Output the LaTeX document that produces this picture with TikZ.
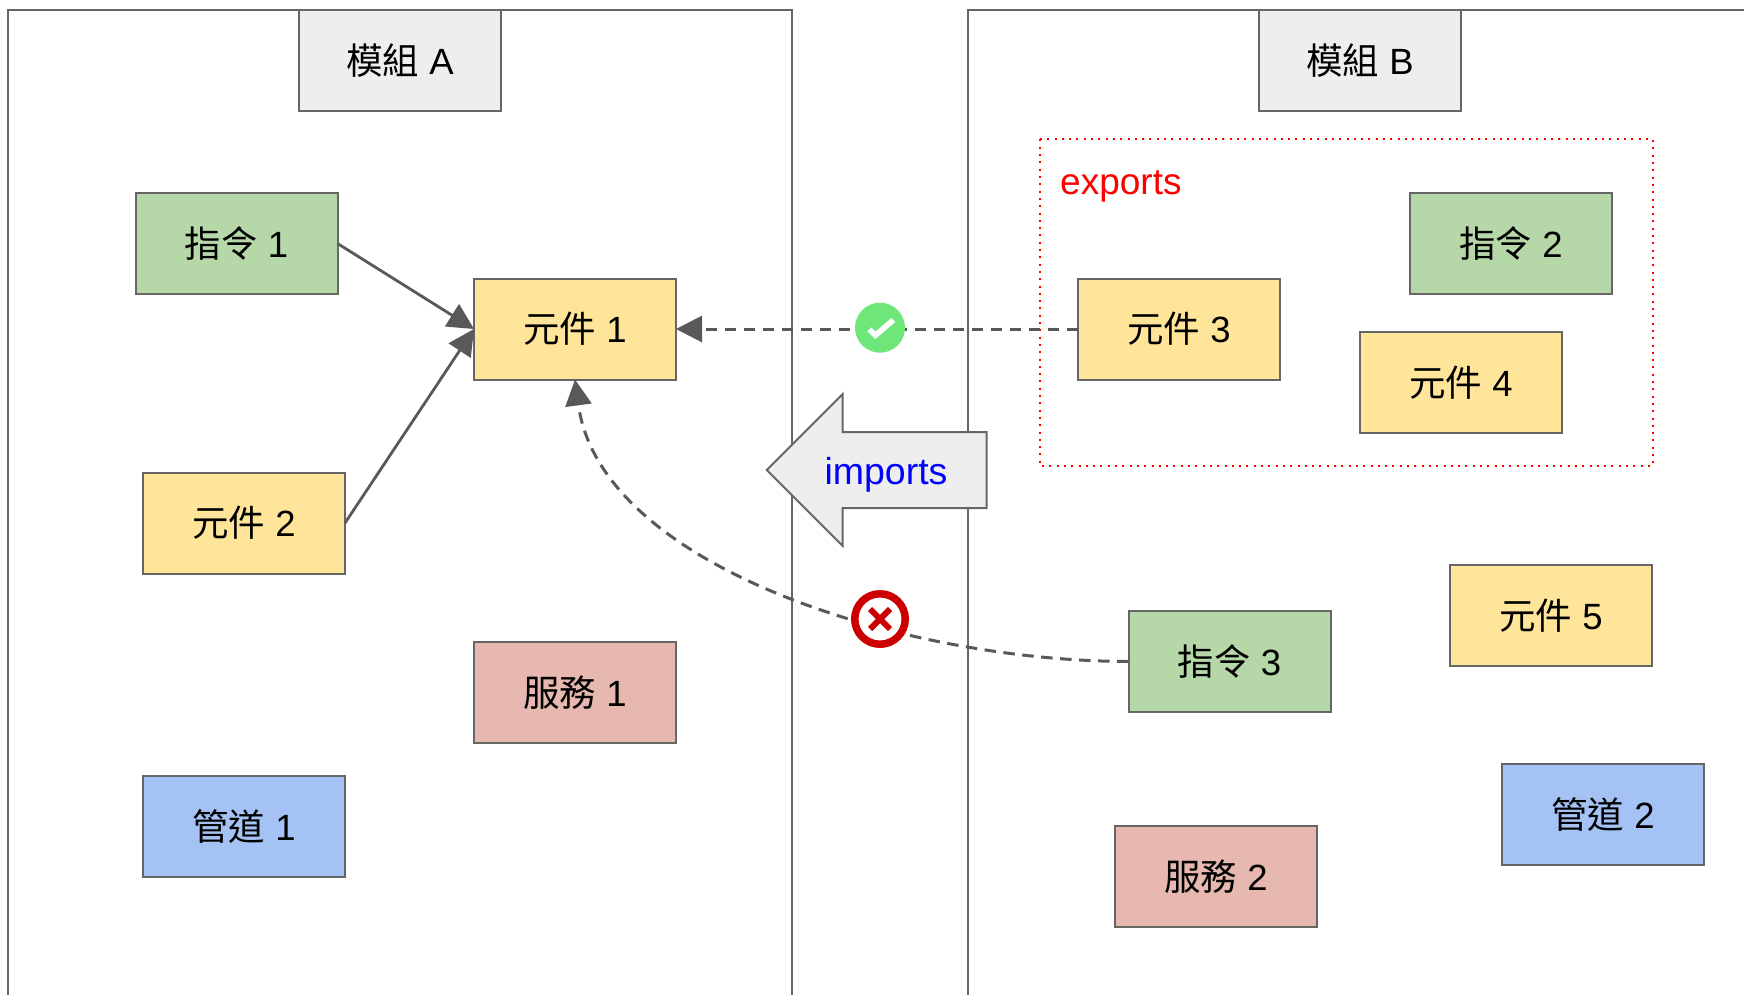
\documentclass[tikz,border=0pt]{standalone}
\usepackage{fontspec}
\setmainfont{Liberation Sans}
\newfontfamily\cjk{Noto Sans CJK TC}
\usetikzlibrary{arrows.meta}
\definecolor{ln}{HTML}{595959}
\definecolor{frameln}{HTML}{666666}
\definecolor{gry}{HTML}{EEEEEE}
\definecolor{grn}{HTML}{B6D7A8}
\definecolor{ylw}{HTML}{FFE599}
\definecolor{rdd}{HTML}{E6B8AF}
\definecolor{blu}{HTML}{A4C2F4}
\definecolor{okc}{HTML}{6FE67A}
\definecolor{noc}{HTML}{CC0000}
\definecolor{txtblue}{HTML}{0000FF}
\tikzset{
  box/.style={draw=frameln,line width=2pt,minimum width=202pt,minimum height=101pt,inner sep=0pt,outer sep=0pt,font=\fontsize{36.5}{40}\selectfont,text=black},
  frameline/.style={draw=frameln,line width=2pt},
  conn/.style={draw=ln,line width=2.8pt,-{Triangle[length=26pt,width=26pt,fill=ln]}},
  dashconn/.style={conn,line width=3pt,dash pattern=on 11.5pt off 7.5pt},
  dotbox/.style={draw=red,line width=2pt,dash pattern=on 2pt off 5.3pt},
}
\begin{document}
\begin{tikzpicture}[x=1pt,y=-1pt]
\useasboundingbox (0,0) rectangle (1744,995);
\fill[white] (0,0) rectangle (1744,995);
\draw[frameline] (8,995) -- (8,10) -- (792,10) -- (792,995);
\draw[frameline] (968,995) -- (968,10) -- (1744,10);
\draw[dotbox] (1040,139.5) rectangle (1652.5,466);
\node[anchor=base west,text=red,font=\fontsize{37}{40}\selectfont,inner sep=0pt] (exp) at (1060,194) {exports};

\node[box,fill=gry] (ma) at (400,60.5) {{\cjk 模組} A};
\node[box,fill=gry] (mb) at (1360,60.5) {{\cjk 模組} B};
\node[box,fill=grn] (d1) at (236.5,243.5) {{\cjk 指令} 1};
\node[box,fill=ylw] (c1) at (575,329) {{\cjk 元件} 1};
\node[box,fill=grn] (d2) at (1511,243.5) {{\cjk 指令} 2};
\node[box,fill=ylw] (c3) at (1179,329) {{\cjk 元件} 3};
\node[box,fill=ylw] (c4) at (1461,382.5) {{\cjk 元件} 4};
\node[box,fill=ylw] (c2) at (244,523) {{\cjk 元件} 2};
\node[box,fill=rdd] (s1) at (575,692.5) {{\cjk 服務} 1};
\node[box,fill=blu] (p1) at (244,826.5) {{\cjk 管道} 1};
\node[box,fill=grn] (d3) at (1229.5,661.5) {{\cjk 指令} 3};
\node[box,fill=ylw] (c5) at (1551,615.5) {{\cjk 元件} 5};
\node[box,fill=blu] (p2) at (1603,814.5) {{\cjk 管道} 2};
\node[box,fill=rdd] (s2) at (1216,876.5) {{\cjk 服務} 2};

\draw[conn] (d1.east) -- (c1.west);
\draw[conn] (c2.east) -- (c1.west);
\draw[dashconn] (c3.west) -- (c1.east);
\draw[dashconn] (d3.west) .. controls (900,661) and (600,565) .. (c1.south);

\draw[frameline,fill=gry,line join=miter] (766.7,470) -- (842.7,394) -- (842.7,432) -- (986.7,432) -- (986.7,508) -- (842.7,508) -- (842.7,546) -- cycle;
\node[text=txtblue,font=\fontsize{37.5}{40}\selectfont,anchor=base,inner sep=0pt] (imp) at (886,484) {imports};

\node[circle,fill=okc,minimum size=50pt,inner sep=0pt] (ok) at (880,327.7) {};
\draw[white,line width=5.5pt] ([shift={(-10.7,1.7)}]ok.center) -- ([shift={(-4.7,7.7)}]ok.center) -- ([shift={(13.3,-7.7)}]ok.center);
\node[circle,draw=noc,fill=white,line width=7.5pt,minimum size=50.5pt,inner sep=0pt] (no) at (880,619) {};
\draw[noc,line width=6pt] ([shift={(-10,-10)}]no.center) -- ([shift={(10,10)}]no.center);
\draw[noc,line width=6pt] ([shift={(-10,10)}]no.center) -- ([shift={(10,-10)}]no.center);
\end{tikzpicture}
\end{document}
